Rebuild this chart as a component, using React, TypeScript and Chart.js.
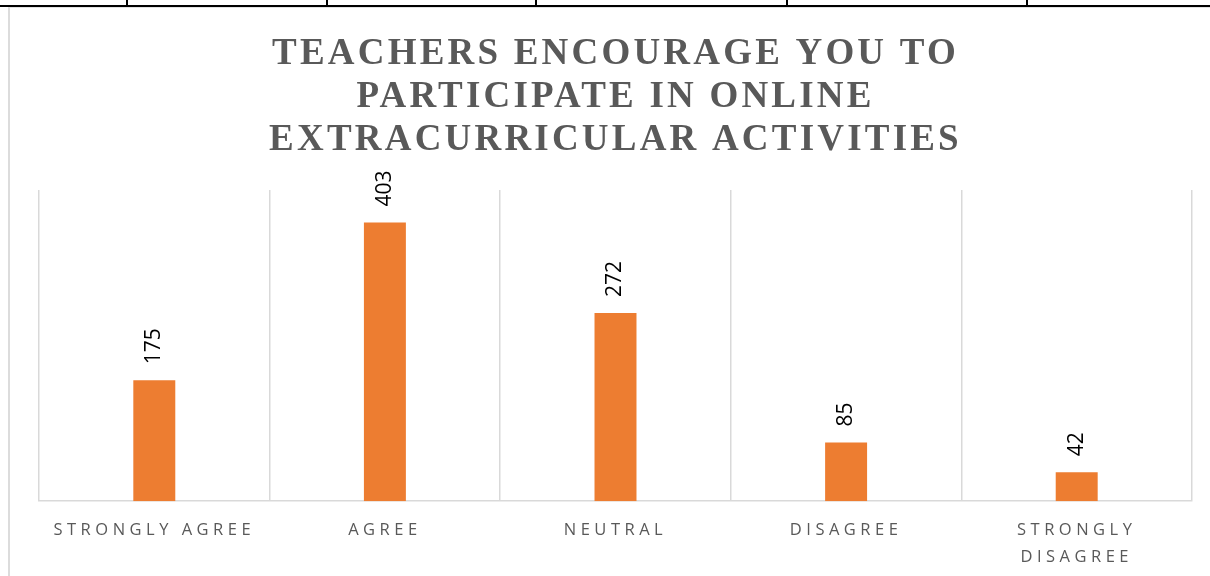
import React, { useEffect, useRef } from "react";
import { Chart, registerables } from "chart.js";

Chart.register(...registerables);

const titleLines = [
  "TEACHERS ENCOURAGE YOU TO",
  "PARTICIPATE IN ONLINE",
  "EXTRACURRICULAR ACTIVITIES",
];
const categories: (string | string[])[] = [
  "STRONGLY AGREE",
  "AGREE",
  "NEUTRAL",
  "DISAGREE",
  ["STRONGLY", "DISAGREE"],
];
const values = [175, 403, 272, 85, 42];
const yMax = 450;
const tableTicks = [127, 327, 536, 787, 1027];

const TICK_SPACING = "4.5px";
const TITLE_SPACING = "3.2px";

const spacingPlugin = {
  id: "letterSpacing",
  beforeDraw(chart: any) {
    const ctx = chart.ctx;
    const sx = chart.scales.x;
    if (sx && !sx.__ls) {
      const orig = sx.drawLabels.bind(sx);
      sx.drawLabels = (ca: any) => {
        ctx.save();
        ctx.letterSpacing = TICK_SPACING;
        orig(ca);
        ctx.restore();
      };
      sx.__ls = true;
    }
    const tb = chart.titleBlock;
    if (tb && !tb.__ls) {
      const o = tb.draw.bind(tb);
      tb.draw = (...a: any[]) => {
        ctx.save();
        ctx.letterSpacing = TITLE_SPACING;
        o(...a);
        ctx.restore();
      };
      tb.__ls = true;
    }
  },
};

const valueLabelPlugin = {
  id: "valueLabels",
  afterDatasetsDraw(chart: any) {
    const ctx = chart.ctx;
    const meta = chart.getDatasetMeta(0);
    ctx.save();
    ctx.letterSpacing = "0px";
    ctx.font = '21px "Open Sans"';
    ctx.fillStyle = "#000000";
    ctx.textAlign = "left";
    ctx.textBaseline = "middle";
    meta.data.forEach((bar: any, i: number) => {
      ctx.save();
      ctx.translate(bar.x, bar.y - 16);
      ctx.rotate(-Math.PI / 2);
      ctx.fillText(String(values[i]), 0, 0);
      ctx.restore();
    });
    ctx.restore();
  },
};

export default function App() {
  const ref = useRef<HTMLCanvasElement | null>(null);

  useEffect(() => {
    if (!ref.current) return;
    const chart = new Chart(ref.current, {
      type: "bar",
      data: {
        labels: categories as any,
        datasets: [
          {
            data: values,
            backgroundColor: "#ED7D31",
            borderWidth: 0,
            categoryPercentage: 1,
            barPercentage: 0.182,
          },
        ],
      },
      options: {
        responsive: false,
        animation: false,
        devicePixelRatio: 1,
        layout: { padding: { top: 0, left: 39, right: 18, bottom: 14 } },
        plugins: {
          legend: { display: false },
          tooltip: { enabled: false },
          title: {
            display: true,
            text: titleLines,
            color: "#595959",
            font: { family: '"Liberation Serif"', size: 37, weight: "bold", lineHeight: 1.17 },
            padding: { top: 32.7, bottom: 27.4 },
          },
        },
        scales: {
          x: {
            grid: { display: true, color: "#d9d9d9", lineWidth: 1.5, drawTicks: false, offset: true },
            border: { display: true, color: "#d9d9d9", width: 1.5 },
            ticks: {
              color: "#595959",
              font: { family: '"Open Sans"', size: 16.5, lineHeight: 1.6 },
              padding: 16,
              maxRotation: 0,
              minRotation: 0,
              autoSkip: false,
            },
          },
          y: {
            display: false,
            min: 0,
            max: yMax,
          },
        },
      },
      plugins: [spacingPlugin, valueLabelPlugin],
    });
    return () => chart.destroy();
  }, []);

  return (
    <div
      style={{
        position: "absolute",
        left: 0,
        top: 0,
        width: 1210,
        height: 576,
        overflow: "hidden",
        background: "#ffffff",
      }}
    >
      <div
        style={{
          position: "absolute",
          left: 8,
          top: 7,
          width: 1400,
          height: 700,
          borderLeft: "2px solid #dcdcdc",
          borderTop: "1px solid #e2e2e2",
        }}
      />
      <div style={{ position: "absolute", left: 0, top: 5, width: 1210, height: 2, background: "#000" }} />
      {tableTicks.map((x) => (
        <div key={x} style={{ position: "absolute", left: x - 1, top: 0, width: 2, height: 6, background: "#000" }} />
      ))}
      <canvas
        ref={ref}
        width={1210}
        height={600}
        style={{ position: "absolute", left: 0, top: 0, width: 1210, height: 600 }}
      />
    </div>
  );
}
